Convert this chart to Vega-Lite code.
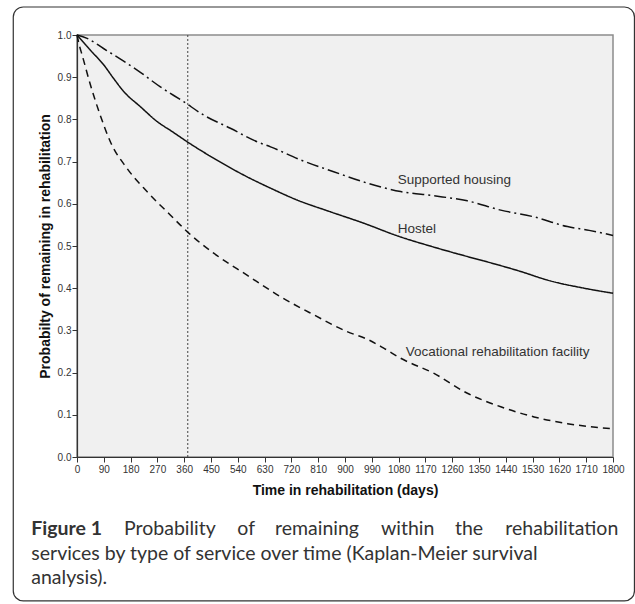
{
  "$schema": "https://vega.github.io/schema/vega-lite/v6.json",
  "width": 536,
  "height": 422,
  "autosize": {"type": "none"},
  "padding": {"left": 77, "top": 35, "right": 22, "bottom": 147},
  "background": "white",
  "config": {
    "view": {"fill": "#f0f0f0", "stroke": "#8c8c8c", "strokeWidth": 1.5},
    "axis": {
      "labelFont": "Liberation Sans", "labelFontSize": 10, "labelColor": "#333333",
      "titleFont": "Liberation Sans", "titleFontSize": 14, "titleFontWeight": "bold", "titleColor": "#111111",
      "tickColor": "#333333", "domainColor": "#333333", "grid": false, "tickSize": 5, "domainWidth": 1.2,
      "labelOverlap": false, "labelFlush": false
    },
    "text": {"font": "Lato", "fontSize": 19.5, "color": "#333333", "baseline": "alphabetic", "align": "left"}
  },
  "datasets": {
    "curves": [
      {"service": "Hostel", "days": 0, "prob": 1.0},
      {"service": "Hostel", "days": 20, "prob": 0.984},
      {"service": "Hostel", "days": 45, "prob": 0.964},
      {"service": "Hostel", "days": 90, "prob": 0.929},
      {"service": "Hostel", "days": 123, "prob": 0.897},
      {"service": "Hostel", "days": 157, "prob": 0.866},
      {"service": "Hostel", "days": 213, "prob": 0.830},
      {"service": "Hostel", "days": 269, "prob": 0.795},
      {"service": "Hostel", "days": 320, "prob": 0.771},
      {"service": "Hostel", "days": 370, "prob": 0.747},
      {"service": "Hostel", "days": 459, "prob": 0.708},
      {"service": "Hostel", "days": 560, "prob": 0.668},
      {"service": "Hostel", "days": 650, "prob": 0.637},
      {"service": "Hostel", "days": 739, "prob": 0.609},
      {"service": "Hostel", "days": 851, "prob": 0.581},
      {"service": "Hostel", "days": 963, "prob": 0.554},
      {"service": "Hostel", "days": 1076, "prob": 0.524},
      {"service": "Hostel", "days": 1200, "prob": 0.497},
      {"service": "Hostel", "days": 1311, "prob": 0.475},
      {"service": "Hostel", "days": 1400, "prob": 0.458},
      {"service": "Hostel", "days": 1479, "prob": 0.442},
      {"service": "Hostel", "days": 1591, "prob": 0.417},
      {"service": "Hostel", "days": 1703, "prob": 0.400},
      {"service": "Hostel", "days": 1800, "prob": 0.388},
      {"service": "Supported housing", "days": 0, "prob": 1.0},
      {"service": "Supported housing", "days": 34, "prob": 0.992},
      {"service": "Supported housing", "days": 89, "prob": 0.968},
      {"service": "Supported housing", "days": 150, "prob": 0.941},
      {"service": "Supported housing", "days": 202, "prob": 0.917},
      {"service": "Supported housing", "days": 280, "prob": 0.877},
      {"service": "Supported housing", "days": 358, "prob": 0.842},
      {"service": "Supported housing", "days": 426, "prob": 0.810},
      {"service": "Supported housing", "days": 515, "prob": 0.779},
      {"service": "Supported housing", "days": 605, "prob": 0.747},
      {"service": "Supported housing", "days": 650, "prob": 0.735},
      {"service": "Supported housing", "days": 751, "prob": 0.704},
      {"service": "Supported housing", "days": 862, "prob": 0.676},
      {"service": "Supported housing", "days": 975, "prob": 0.649},
      {"service": "Supported housing", "days": 1087, "prob": 0.629},
      {"service": "Supported housing", "days": 1199, "prob": 0.619},
      {"service": "Supported housing", "days": 1311, "prob": 0.607},
      {"service": "Supported housing", "days": 1423, "prob": 0.585},
      {"service": "Supported housing", "days": 1535, "prob": 0.569},
      {"service": "Supported housing", "days": 1647, "prob": 0.546},
      {"service": "Supported housing", "days": 1720, "prob": 0.537},
      {"service": "Supported housing", "days": 1800, "prob": 0.525},
      {"service": "Vocational rehabilitation facility", "days": 0, "prob": 1.0},
      {"service": "Vocational rehabilitation facility", "days": 8, "prob": 0.975},
      {"service": "Vocational rehabilitation facility", "days": 17, "prob": 0.953},
      {"service": "Vocational rehabilitation facility", "days": 45, "prob": 0.882},
      {"service": "Vocational rehabilitation facility", "days": 78, "prob": 0.810},
      {"service": "Vocational rehabilitation facility", "days": 112, "prob": 0.747},
      {"service": "Vocational rehabilitation facility", "days": 168, "prob": 0.684},
      {"service": "Vocational rehabilitation facility", "days": 235, "prob": 0.629},
      {"service": "Vocational rehabilitation facility", "days": 314, "prob": 0.573},
      {"service": "Vocational rehabilitation facility", "days": 370, "prob": 0.534},
      {"service": "Vocational rehabilitation facility", "days": 459, "prob": 0.483},
      {"service": "Vocational rehabilitation facility", "days": 571, "prob": 0.431},
      {"service": "Vocational rehabilitation facility", "days": 683, "prob": 0.380},
      {"service": "Vocational rehabilitation facility", "days": 795, "prob": 0.337},
      {"service": "Vocational rehabilitation facility", "days": 907, "prob": 0.297},
      {"service": "Vocational rehabilitation facility", "days": 975, "prob": 0.279},
      {"service": "Vocational rehabilitation facility", "days": 1030, "prob": 0.258},
      {"service": "Vocational rehabilitation facility", "days": 1087, "prob": 0.234},
      {"service": "Vocational rehabilitation facility", "days": 1199, "prob": 0.198},
      {"service": "Vocational rehabilitation facility", "days": 1311, "prob": 0.151},
      {"service": "Vocational rehabilitation facility", "days": 1423, "prob": 0.119},
      {"service": "Vocational rehabilitation facility", "days": 1535, "prob": 0.095},
      {"service": "Vocational rehabilitation facility", "days": 1647, "prob": 0.079},
      {"service": "Vocational rehabilitation facility", "days": 1720, "prob": 0.072},
      {"service": "Vocational rehabilitation facility", "days": 1800, "prob": 0.067}
    ],
    "labels": [
      {"label": "Supported housing", "days": 1077, "prob": 0.656},
      {"label": "Hostel", "days": 1077, "prob": 0.540},
      {"label": "Vocational rehabilitation facility", "days": 1104, "prob": 0.249}
    ],
    "caption": [
      {"part": "w1", "text": "Figure 1"},
      {"part": "w2", "text": "Probability"},
      {"part": "w3", "text": "of"},
      {"part": "w4", "text": "remaining"},
      {"part": "w5", "text": "within"},
      {"part": "w6", "text": "the"},
      {"part": "w7", "text": "rehabilitation"},
      {"part": "line2", "text": "services by type of service over time (Kaplan-Meier survival"},
      {"part": "line3", "text": "analysis)."}
    ]
  },
  "layer": [
    {
      "data": {"values": [{}]},
      "mark": {"type": "rect", "fill": "transparent", "stroke": "#333333", "strokeWidth": 1.2, "cornerRadius": 10},
      "encoding": {
        "x": {"datum": -214, "type": "quantitative", "scale": {"domain": [0, 1800], "nice": false, "zero": false},
          "axis": {"title": "Time in rehabilitation (days)", "values": [0, 90, 180, 270, 360, 450, 540, 630, 720, 810, 900, 990, 1080, 1170, 1260, 1350, 1440, 1530, 1620, 1710, 1800], "tickCount": 25, "format": "d", "labelPadding": 2, "titlePadding": 9, "labelOverlap": false, "labelFlush": false}},
        "x2": {"datum": 1872},
        "y": {"datum": 1.0664, "type": "quantitative", "scale": {"domain": [0, 1], "nice": false},
          "axis": {"title": "Probabilty of remaining in rehabilitation", "values": [0, 0.1, 0.2, 0.3, 0.4, 0.5, 0.6, 0.7, 0.8, 0.9, 1.0], "tickCount": 15, "format": ".1f", "labelPadding": 1, "titlePadding": 5, "labelOverlap": false, "labelFlush": false}},
        "y2": {"datum": -0.341}
      }
    },
    {
      "data": {"values": [{}]},
      "mark": {"type": "rule", "strokeDash": [2, 2], "color": "#444444", "strokeWidth": 1},
      "encoding": {
        "x": {"datum": 372, "type": "quantitative", "scale": {"domain": [0, 1800], "nice": false, "zero": false},
          "axis": {"title": "Time in rehabilitation (days)", "values": [0, 90, 180, 270, 360, 450, 540, 630, 720, 810, 900, 990, 1080, 1170, 1260, 1350, 1440, 1530, 1620, 1710, 1800], "tickCount": 25, "format": "d", "labelPadding": 2, "titlePadding": 9, "labelOverlap": false, "labelFlush": false}}
      }
    },
    {
      "data": {"name": "curves"},
      "mark": {"type": "line", "color": "#111111", "strokeWidth": 1.5, "interpolate": "monotone"},
      "encoding": {
        "x": {"field": "days", "type": "quantitative", "scale": {"domain": [0, 1800], "nice": false, "zero": false},
          "axis": {"title": "Time in rehabilitation (days)", "values": [0, 90, 180, 270, 360, 450, 540, 630, 720, 810, 900, 990, 1080, 1170, 1260, 1350, 1440, 1530, 1620, 1710, 1800], "tickCount": 25, "format": "d", "labelPadding": 2, "titlePadding": 9, "labelOverlap": false, "labelFlush": false}},
        "y": {"field": "prob", "type": "quantitative", "scale": {"domain": [0, 1], "nice": false},
          "axis": {"title": "Probabilty of remaining in rehabilitation", "values": [0, 0.1, 0.2, 0.3, 0.4, 0.5, 0.6, 0.7, 0.8, 0.9, 1.0], "tickCount": 15, "format": ".1f", "labelPadding": 1, "titlePadding": 5, "labelOverlap": false, "labelFlush": false}},
        "detail": {"field": "service"},
        "strokeDash": {
          "field": "service", "type": "nominal",
          "scale": {"domain": ["Hostel", "Supported housing", "Vocational rehabilitation facility"], "range": [[1, 0], [12, 4, 2, 4], [7, 5]]},
          "legend": null
        }
      }
    },
    {
      "data": {"name": "labels"},
      "mark": {"type": "text", "align": "left", "baseline": "middle", "font": "Liberation Sans", "fontSize": 13.5, "color": "#333333"},
      "encoding": {
        "x": {"field": "days", "type": "quantitative", "scale": {"domain": [0, 1800], "nice": false, "zero": false},
          "axis": {"title": "Time in rehabilitation (days)", "values": [0, 90, 180, 270, 360, 450, 540, 630, 720, 810, 900, 990, 1080, 1170, 1260, 1350, 1440, 1530, 1620, 1710, 1800], "tickCount": 25, "format": "d", "labelPadding": 2, "titlePadding": 9, "labelOverlap": false, "labelFlush": false}},
        "y": {"field": "prob", "type": "quantitative", "scale": {"domain": [0, 1], "nice": false},
          "axis": {"title": "Probabilty of remaining in rehabilitation", "values": [0, 0.1, 0.2, 0.3, 0.4, 0.5, 0.6, 0.7, 0.8, 0.9, 1.0], "tickCount": 15, "format": ".1f", "labelPadding": 1, "titlePadding": 5, "labelOverlap": false, "labelFlush": false}},
        "text": {"field": "label"}
      }
    },
    {
      "data": {"name": "caption"},
      "transform": [{"filter": "datum.part === 'w1'"}],
      "mark": {"type": "text", "fontWeight": "bold"},
      "encoding": {"x": {"datum": -153.5, "type": "quantitative"}, "y": {"datum": -0.186, "type": "quantitative"}, "text": {"field": "text"}}
    },
    {
      "data": {"name": "caption"},
      "transform": [{"filter": "datum.part === 'w2'"}],
      "mark": {"type": "text"},
      "encoding": {"x": {"datum": 157.8, "type": "quantitative"}, "y": {"datum": -0.186, "type": "quantitative"}, "text": {"field": "text"}}
    },
    {
      "data": {"name": "caption"},
      "transform": [{"filter": "datum.part === 'w3'"}],
      "mark": {"type": "text"},
      "encoding": {"x": {"datum": 538.3, "type": "quantitative"}, "y": {"datum": -0.186, "type": "quantitative"}, "text": {"field": "text"}}
    },
    {
      "data": {"name": "caption"},
      "transform": [{"filter": "datum.part === 'w4'"}],
      "mark": {"type": "text"},
      "encoding": {"x": {"datum": 664.9, "type": "quantitative"}, "y": {"datum": -0.186, "type": "quantitative"}, "text": {"field": "text"}}
    },
    {
      "data": {"name": "caption"},
      "transform": [{"filter": "datum.part === 'w5'"}],
      "mark": {"type": "text"},
      "encoding": {"x": {"datum": 1020.6, "type": "quantitative"}, "y": {"datum": -0.186, "type": "quantitative"}, "text": {"field": "text"}}
    },
    {
      "data": {"name": "caption"},
      "transform": [{"filter": "datum.part === 'w6'"}],
      "mark": {"type": "text"},
      "encoding": {"x": {"datum": 1269.1, "type": "quantitative"}, "y": {"datum": -0.186, "type": "quantitative"}, "text": {"field": "text"}}
    },
    {
      "data": {"name": "caption"},
      "transform": [{"filter": "datum.part === 'w7'"}],
      "mark": {"type": "text", "align": "right"},
      "encoding": {"x": {"datum": 1817.8, "type": "quantitative"}, "y": {"datum": -0.186, "type": "quantitative"}, "text": {"field": "text"}}
    },
    {
      "data": {"name": "caption"},
      "transform": [{"filter": "datum.part === 'line2'"}],
      "mark": {"type": "text"},
      "encoding": {"x": {"datum": -153.5, "type": "quantitative"}, "y": {"datum": -0.2429, "type": "quantitative"}, "text": {"field": "text"}}
    },
    {
      "data": {"name": "caption"},
      "transform": [{"filter": "datum.part === 'line3'"}],
      "mark": {"type": "text"},
      "encoding": {"x": {"datum": -153.5, "type": "quantitative"}, "y": {"datum": -0.2998, "type": "quantitative"}, "text": {"field": "text"}}
    }
  ]
}
